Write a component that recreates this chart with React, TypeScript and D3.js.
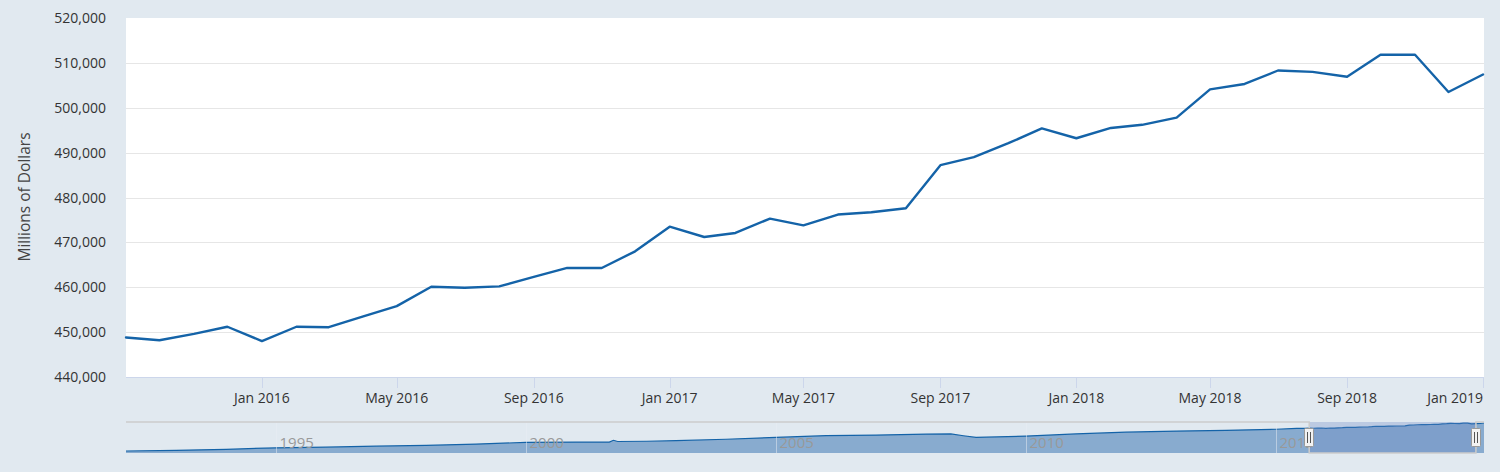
import * as d3 from "d3";

// main series, monthly, millions of dollars
const months = [
  "2015-09", "2015-10", "2015-11", "2015-12",
  "2016-01", "2016-02", "2016-03", "2016-04", "2016-05", "2016-06",
  "2016-07", "2016-08", "2016-09", "2016-10", "2016-11", "2016-12",
  "2017-01", "2017-02", "2017-03", "2017-04", "2017-05", "2017-06",
  "2017-07", "2017-08", "2017-09", "2017-10", "2017-11", "2017-12",
  "2018-01", "2018-02", "2018-03", "2018-04", "2018-05", "2018-06",
  "2018-07", "2018-08", "2018-09", "2018-10", "2018-11", "2018-12",
  "2019-01",
];
const sales = [
  448800, 448200, 449600, 451200,
  448000, 451200, 451100, 453500, 455800, 460100,
  459900, 460200, 462300, 464300, 464300, 468000,
  473500, 471200, 472100, 475300, 473800, 476200,
  476700, 477600, 487200, 489000, 492100, 495400,
  493200, 495500, 496200, 497800, 504100, 505300,
  508300, 508000, 506900, 511800, 511800, 503500,
  507400,
];

// navigator: longer history before the zoomed window, plus the months after it
const navHistMonths = [
  "1992-01", "1993-01", "1994-01", "1995-01", "1996-01", "1997-01",
  "1998-01", "1999-01", "2000-01", "2001-01", "2001-09", "2001-10",
  "2001-11", "2002-06", "2003-01", "2004-01", "2005-01", "2006-01",
  "2007-01", "2008-01", "2008-07", "2008-10", "2009-01", "2009-06",
  "2010-01", "2011-01", "2012-01", "2013-01", "2014-01", "2015-01",
  "2015-06", "2015-08",
];
const navHistSales = [
  164000, 172000, 185000, 204000, 212000, 224000,
  234000, 250000, 272000, 276000, 275000, 298000,
  283000, 286000, 293000, 311000, 334000, 355000,
  363000, 375000, 378000, 355000, 334000, 340000,
  350000, 377000, 399000, 413000, 423000, 436000,
  446000, 447500,
];
const navTailMonths = ["2019-02", "2019-03"];
const navTailSales = [507900, 514000];

const yTicks = [440000, 450000, 460000, 470000, 480000, 490000, 500000, 510000, 520000];

const W = 1500;
const H = 472;
const left = 126;
const right = 1484;
const top = 18;
const bottom = 377;
const navTop = 422;
const navBottom = 453;
const font = "'Open Sans', 'Noto Sans', sans-serif";
const lineColor = "#1463a8";

const parse = d3.timeParse("%Y-%m");

export default function App() {
  const dates = months.map(m => parse(m) as Date);
  const points = dates.map((d, i) => ({ d, v: sales[i] }));

  const x = d3.scaleTime()
    .domain(d3.extent(dates) as [Date, Date])
    .range([left, right - 1]);
  const y = d3.scaleLinear()
    .domain([yTicks[0], yTicks[yTicks.length - 1]])
    .range([bottom, top]);

  const line = d3.line<{ d: Date; v: number }>()
    .x(p => x(p.d))
    .y(p => y(p.v));

  // every fourth month, skipping the one sitting on the left edge
  const xTicks = x.ticks(d3.timeMonth.every(4) as d3.TimeInterval).filter(t => x(t) > left + 20);
  const fmt = d3.timeFormat("%b %Y");

  // navigator
  const navPoints = [
    ...navHistMonths.map((m, i) => ({ d: parse(m) as Date, v: navHistSales[i] })),
    ...points,
    ...navTailMonths.map((m, i) => ({ d: parse(m) as Date, v: navTailSales[i] })),
  ];
  const nx = d3.scaleTime()
    .domain(d3.extent(navPoints, p => p.d) as [Date, Date])
    .range([left, right]);
  const ny = d3.scaleLinear()
    .domain(d3.extent(navPoints, p => p.v) as [number, number])
    .range([451, 423]);
  const navArea = d3.area<{ d: Date; v: number }>()
    .x(p => nx(p.d))
    .y0(navBottom)
    .y1(p => ny(p.v));
  const navLine = d3.line<{ d: Date; v: number }>()
    .x(p => nx(p.d))
    .y(p => ny(p.v));
  const navTicks = nx.ticks(d3.timeYear.every(5) as d3.TimeInterval);
  const z0 = nx(dates[0]);
  const z1 = nx(dates[dates.length - 1]);

  const outline = `M${left},${navTop}L${z0},${navTop}L${z0},${navBottom}L${z1},${navBottom}L${z1},${navTop}L${right},${navTop}`;

  return (
    <div style={{ position: "absolute", left: 0, top: 0 }}>
      <svg width={W} height={H} style={{ display: "block", fontFamily: font }}>
        <rect width={W} height={H} fill="#e1e9f0" />
        <rect x={left} y={top} width={right - left} height={bottom - top} fill="#ffffff" />

        {/* grid */}
        {yTicks.slice(1, -1).map(t => (
          <line key={t} x1={left} x2={right} y1={Math.round(y(t)) + 0.5} y2={Math.round(y(t)) + 0.5}
            stroke="#e6e6e6" strokeWidth={1} />
        ))}

        {/* y labels */}
        {yTicks.map(t => (
          <text key={t} x={106} y={y(t) + 5} textAnchor="end" fontSize={14} fill="#333">
            {d3.format(",")(t)}
          </text>
        ))}
        <text transform={`translate(30,197) rotate(-90)`} textAnchor="middle" fontSize={15.5} fill="#444">
          Millions of Dollars
        </text>

        {/* series */}
        <path d={line(points) ?? ""} fill="none" stroke={lineColor} strokeWidth={2.4}
          strokeLinejoin="round" strokeLinecap="round" />

        {/* x axis */}
        <line x1={left} x2={right} y1={bottom + 0.5} y2={bottom + 0.5} stroke="#ccd6eb" strokeWidth={1} />
        {xTicks.map(t => {
          const tx = Math.round(x(t)) + 0.5;
          const atEnd = x(t) > right - 30;
          return (
            <g key={t.getTime()}>
              <line x1={tx} x2={tx} y1={bottom} y2={bottom + 11} stroke="#ccd6eb" strokeWidth={1} />
              <text x={atEnd ? right - 1 : x(t)} y={403} textAnchor={atEnd ? "end" : "middle"}
                fontSize={14} fill="#333">
                {fmt(t)}
              </text>
            </g>
          );
        })}

        {/* navigator */}
        <path d={navArea(navPoints) ?? ""} fill="#88abcf" />
        <path d={navLine(navPoints) ?? ""} fill="none" stroke={lineColor} strokeWidth={1.2} />
        {navTicks.map(t => {
          const tx = Math.round(nx(t)) + 0.5;
          return (
            <g key={t.getTime()}>
              <line x1={tx} x2={tx} y1={navTop} y2={navBottom} stroke="#e9eef3" strokeOpacity={0.5} />
              <text x={tx + 3} y={448} fontSize={15} fill="#999">
                {d3.timeFormat("%Y")(t)}
              </text>
            </g>
          );
        })}
        <rect x={z0} y={navTop} width={z1 - z0} height={navBottom - navTop} fill="rgba(102,133,194,0.3)" />
        <path d={outline} fill="none" stroke="#cccccc" strokeWidth={1.5} />
        {[z0, z1].map((hx, i) => (
          <g key={i}>
            <rect x={Math.round(hx) - 4.5} y={428.5} width={9} height={18} rx={1}
              fill="#f2f2f2" stroke="#999999" strokeWidth={1} />
            <line x1={Math.round(hx) - 1.5} x2={Math.round(hx) - 1.5} y1={432} y2={443} stroke="#555" />
            <line x1={Math.round(hx) + 1.5} x2={Math.round(hx) + 1.5} y1={432} y2={443} stroke="#555" />
          </g>
        ))}
      </svg>
    </div>
  );
}
